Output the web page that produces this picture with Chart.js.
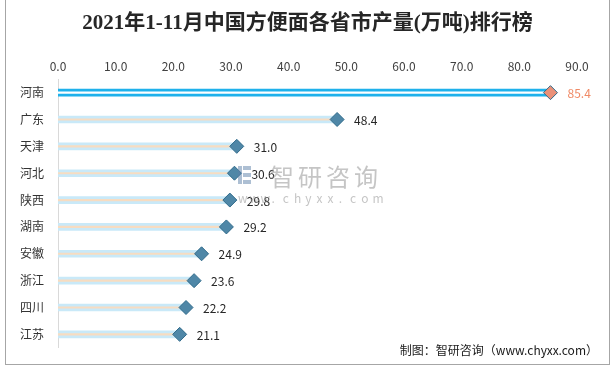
<!DOCTYPE html>
<html>
<head>
<meta charset="utf-8">
<script src="https://cdn.jsdelivr.net/npm/chart.js@4"></script>
<style>
  body { margin: 0; background: #fff; }
  #wrap { position: absolute; left: 0; top: 0; width: 615px; height: 369px; }
  #frame { position: absolute; left: 5px; top: -1px; width: 603px; height: 364px; border: 1px solid #a6a6a6; pointer-events: none; }
</style>
</head>
<body>
<div id="wrap">
  <canvas id="chart" width="615" height="369"></canvas>
  <div id="frame"></div>
</div>
<script>
const provinces = ["河南", "广东", "天津", "河北", "陕西", "湖南", "安徽", "浙江", "四川", "江苏"];
const output = [85.4, 48.4, 31.0, 30.6, 29.8, 29.2, 24.9, 23.6, 22.2, 21.1];
const xTicks = [0, 10, 20, 30, 40, 50, 60, 70, 80, 90];

const cjk = "'Microsoft YaHei', 'Noto Sans CJK SC', sans-serif";

const barColor = provinces.map((p, i) => (i === 0 ? "#1fb1eb" : "#c9e9f8"));
const stripeColor = provinces.map((p, i) => (i === 0 ? "#ffffff" : "#f7dcc1"));
const markFill = provinces.map((p, i) => (i === 0 ? "#ea9078" : "#4f87a7"));

// value labels next to the diamonds, plus the watermark and footer
const extras = {
  id: "extras",
  afterDatasetsDraw(chart) {
    const { ctx } = chart;
    const meta = chart.getDatasetMeta(2);
    ctx.save();
    ctx.font = "12px " + cjk;
    ctx.textBaseline = "middle";
    meta.data.forEach((pt, i) => {
      ctx.fillStyle = i === 0 ? "#f08a66" : "#262626";
      ctx.fillText(output[i].toFixed(1), pt.x + 17, pt.y + 1);
    });

    // watermark
    ctx.globalAlpha = 0.5;
    ctx.fillStyle = "#8c8c8c";
    ctx.font = "24px " + cjk;
    const name = "智研咨询";
    for (let k = 0; k < name.length; k++) ctx.fillText(name[k], 270 + k * 28, 177);
    ctx.font = "12px " + cjk;
    const wm = "www.chyxx.com";
    for (let k = 0; k < wm.length; k++) ctx.fillText(wm[k], 238 + k * 11.2, 198);
    ctx.fillStyle = "#5b7fa8";
    ctx.fillRect(238, 166, 4, 18);
    ctx.fillRect(243, 166, 8, 4);
    ctx.fillRect(243, 173, 8, 4);
    ctx.fillRect(243, 180, 8, 4);
    ctx.globalAlpha = 1;

    // footer
    ctx.fillStyle = "#1a1a1a";
    ctx.font = "12px " + cjk;
    ctx.textAlign = "right";
    ctx.fillText("制图：智研咨询（www.chyxx.com）", 598, 350);
    ctx.restore();
  },
};

new Chart(document.getElementById("chart"), {
  type: "bar",
  data: {
    labels: provinces,
    datasets: [
      {
        label: "bar",
        data: output,
        backgroundColor: barColor,
        barThickness: 7,
        grouped: false,
        order: 3,
      },
      {
        label: "stripe",
        data: output,
        backgroundColor: stripeColor,
        barThickness: 1.5,
        grouped: false,
        order: 2,
      },
      {
        label: "产量",
        type: "line",
        data: output,
        showLine: false,
        pointStyle: "rectRot",
        pointRadius: 7,
        pointBackgroundColor: markFill,
        pointBorderColor: "#2f6a8a",
        pointBorderWidth: 1,
        order: 1,
      },
    ],
  },
  options: {
    indexAxis: "y",
    responsive: false,
    animation: false,
    layout: { padding: { left: 0, right: 0, top: 0, bottom: 17 } },
    scales: {
      x: {
        position: "top",
        min: 0,
        max: 90,
        afterBuildTicks: (s) => { s.ticks = xTicks.map((v) => ({ value: v })); },
        ticks: {
          callback: (v) => v.toFixed(1),
          color: "#404040",
          font: { size: 12, family: cjk },
          padding: 6,
        },
        grid: { display: false, drawTicks: false },
        border: { display: false },
        afterFit: (s) => { s.height = 28; },
      },
      y: {
        ticks: {
          color: "#333333",
          font: { size: 12, family: cjk },
          padding: 14,
        },
        grid: { display: false, drawTicks: false },
        border: { display: true, color: "#d9d9d9" },
        afterFit: (s) => { s.width = 58; },
      },
      // empty right-hand spacer so the title stays centred on the canvas
      spacer: {
        type: "linear",
        position: "right",
        ticks: { display: false },
        grid: { display: false, drawTicks: false },
        border: { display: false },
        afterFit: (s) => { s.width = 38; },
      },
    },
    plugins: {
      legend: { display: false },
      tooltip: { enabled: false },
      title: {
        display: true,
        text: "2021年1-11月中国方便面各省市产量(万吨)排行榜",
        color: "#262626",
        font: { size: 21, weight: "bold", family: "'Liberation Serif', 'Noto Sans CJK SC', serif" },
        padding: { top: 11, bottom: 15 },
      },
    },
  },
  plugins: [extras],
});
</script>
</body>
</html>
